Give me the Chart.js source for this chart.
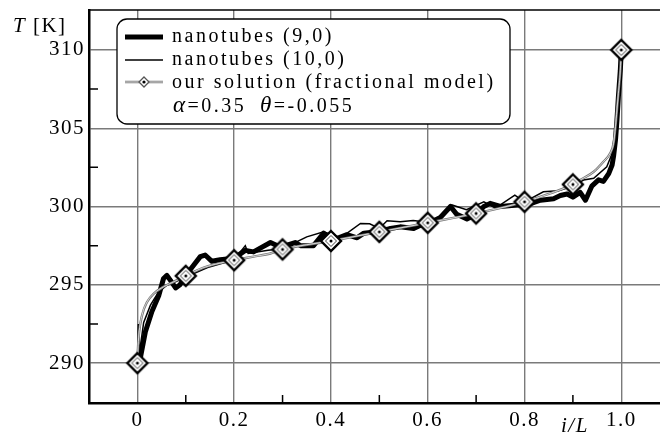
<!DOCTYPE html>
<html><head><meta charset="utf-8">
<script src="https://cdn.jsdelivr.net/npm/chart.js@4.4.1/dist/chart.umd.min.js"></script>
<style>html,body{margin:0;padding:0;background:#fff;overflow:hidden}#c{display:block}</style>
</head><body>
<canvas id="c" width="660" height="437" style="width:660px;height:437px"></canvas>
<script>
// ---- data ----
const thickX = [0, 0.006, 0.0165, 0.03, 0.044, 0.054, 0.061, 0.068, 0.079, 0.088, 0.1, 0.115, 0.13, 0.14, 0.154, 0.171, 0.2, 0.223, 0.24, 0.275, 0.296, 0.326, 0.337, 0.364, 0.385, 0.4, 0.433, 0.454, 0.468, 0.5, 0.523, 0.543, 0.571, 0.585, 0.6, 0.626, 0.647, 0.66, 0.681, 0.7, 0.716, 0.729, 0.75, 0.785, 0.805, 0.833, 0.86, 0.874, 0.888, 0.9, 0.915, 0.926, 0.939, 0.953, 0.963, 0.974, 0.981, 0.984, 0.988, 0.991, 0.994, 0.998, 1.0];
const thickY = [290, 290.3, 292.0, 293.3, 294.3, 295.4, 295.6, 295.3, 294.8, 295.0, 295.6, 296.2, 296.8, 296.9, 296.5, 296.6, 296.7, 297.2, 297.1, 297.7, 297.4, 297.7, 297.5, 297.5, 298.3, 297.8, 298.2, 298.0, 298.3, 298.4, 298.6, 298.7, 298.6, 298.8, 298.9, 299.3, 300.0, 299.5, 299.2, 299.5, 300.0, 300.2, 300.0, 300.1, 300.1, 300.4, 300.5, 300.7, 300.8, 300.6, 300.9, 300.4, 301.3, 301.7, 301.6, 302.1, 302.65, 303.2, 304.25, 305.5, 307.0, 308.7, 310];

const thinX = [0, 0.002, 0.004, 0.013, 0.027, 0.044, 0.061, 0.08, 0.1, 0.145, 0.2, 0.223, 0.229, 0.27, 0.3, 0.35, 0.385, 0.42, 0.461, 0.48, 0.5, 0.516, 0.543, 0.57, 0.6, 0.63, 0.65, 0.68, 0.716, 0.74, 0.78, 0.8, 0.839, 0.87, 0.9, 0.922, 0.943, 0.97, 0.984, 0.99, 0.995, 0.999, 1.0];
const thinY = [290, 292.5, 290.6, 292.6, 293.7, 294.55, 294.97, 295.2, 295.5, 296.1, 296.6, 297.5, 297.0, 297.2, 297.3, 298.06, 298.38, 298.0, 298.92, 298.9, 298.6, 299.09, 299.03, 299.1, 299.0, 299.4, 300.1, 299.8, 300.3, 299.9, 300.73, 300.3, 300.94, 301.0, 301.3, 301.69, 301.8, 302.54, 303.6, 305.1, 306.5, 309.1, 310];

const solX = [0, 0.001, 0.003, 0.0097, 0.02, 0.034, 0.054, 0.075, 0.1, 0.137, 0.2, 0.24, 0.275, 0.3, 0.4, 0.5, 0.6, 0.7, 0.8, 0.85, 0.9, 0.915, 0.943, 0.963, 0.977, 0.984, 0.988, 0.991, 0.994, 0.998, 1.0];
const solY = [290, 290.8, 291.8, 293.06, 293.9, 294.44, 294.87, 295.19, 295.57, 296.1, 296.57, 296.8, 297.0, 297.26, 297.8, 298.38, 298.96, 299.56, 300.3, 300.8, 301.41, 301.69, 302.22, 302.86, 303.4, 304.03, 305.1, 306.16, 307.23, 308.7, 310];

const markX = [0, 0.1, 0.2, 0.3, 0.4, 0.5, 0.6, 0.7, 0.8, 0.9, 1.0];
const markY = [290, 295.57, 296.57, 297.26, 297.8, 298.38, 298.96, 299.56, 300.3, 301.41, 310];

const xTicks = [0, 0.2, 0.4, 0.6, 0.8, 1.0];
const xTickLabels = ['0', '0.2', '0.4', '0.6', '0.8', '1.0'];
const yTicks = [290, 295, 300, 305, 310];
const minorX = [0.1, 0.3, 0.5, 0.7, 0.9];
const minorY = [292.5, 297.5, 302.5, 307.5];

const legendLabels = ['nanotubes (9,0)', 'nanotubes (10,0)', 'our solution (fractional model)'];
const alphaText = ['\u03B1', '=0.35'];
const thetaText = ['\u03B8', '=-0.055'];
const yTitle = ['T', ' [K]'];
const xTitle = 'i/L';

// ---- rendering ----
const FONT = '"Liberation Serif", "Times New Roman", serif';
const pts = (xs, ys) => xs.map((x, i) => ({ x, y: ys[i] }));

function makeMarker() {
  const s = 26, c = 13;
  const cv = document.createElement('canvas');
  cv.width = s; cv.height = s;
  const g = cv.getContext('2d');
  g.beginPath();
  g.moveTo(c, c - 10); g.lineTo(c + 10, c); g.lineTo(c, c + 10); g.lineTo(c - 10, c); g.closePath();
  g.fillStyle = '#fff'; g.fill();
  g.lineWidth = 2.4; g.strokeStyle = '#000'; g.stroke();
  g.beginPath();
  g.moveTo(c, c - 5.5); g.lineTo(c + 5.5, c); g.lineTo(c, c + 5.5); g.lineTo(c - 5.5, c); g.closePath();
  g.lineWidth = 1; g.strokeStyle = '#444'; g.stroke();
  g.beginPath(); g.arc(c, c, 1.5, 0, Math.PI * 2); g.fillStyle = '#000'; g.fill();
  return cv;
}
const markerImg = makeMarker();

function roundRect(ctx, x, y, w, h, r) {
  ctx.beginPath();
  ctx.moveTo(x + r, y);
  ctx.lineTo(x + w - r, y); ctx.arcTo(x + w, y, x + w, y + r, r);
  ctx.lineTo(x + w, y + h - r); ctx.arcTo(x + w, y + h, x + w - r, y + h, r);
  ctx.lineTo(x + r, y + h); ctx.arcTo(x, y + h, x, y + h - r, r);
  ctx.lineTo(x, y + r); ctx.arcTo(x, y, x + r, y, r);
  ctx.closePath();
}

const noPad = s => { s.paddingTop = 0; s.paddingBottom = 0; s.paddingLeft = 0; s.paddingRight = 0; };

const deco = {
  id: 'deco',
  beforeDraw(chart) { chart.ctx.letterSpacing = '1.5px'; },
  afterDraw(chart) {
    const { ctx, chartArea: a, scales: { x, y } } = chart;
    ctx.save();
    ctx.strokeStyle = '#000'; ctx.lineWidth = 1.6;
    ctx.beginPath(); ctx.moveTo(a.left, a.top); ctx.lineTo(chart.width, a.top); ctx.stroke();
    ctx.lineWidth = 1.5; ctx.beginPath();
    minorX.forEach(v => { const p = x.getPixelForValue(v); ctx.moveTo(p, a.bottom); ctx.lineTo(p, a.bottom - 8); });
    minorY.forEach(v => { const p = y.getPixelForValue(v); ctx.moveTo(a.left, p); ctx.lineTo(a.left + 9, p); });
    ctx.stroke();

    ctx.fillStyle = '#000'; ctx.textBaseline = 'alphabetic'; ctx.textAlign = 'left';
    ctx.letterSpacing = '1.5px';
    ctx.font = 'italic 21px ' + FONT;
    ctx.fillText(yTitle[0], 13, 32);
    let w = ctx.measureText(yTitle[0]).width;
    ctx.font = '21px ' + FONT;
    ctx.fillText(yTitle[1], 13 + w, 32);
    ctx.font = 'italic 21px ' + FONT;
    ctx.fillText(xTitle, 561, 432);

    roundRect(ctx, 117, 19, 393, 105, 10);
    ctx.fillStyle = '#fff'; ctx.fill();
    ctx.lineWidth = 1.3; ctx.strokeStyle = '#000'; ctx.stroke();
    ctx.lineCap = 'butt';
    ctx.beginPath(); ctx.lineWidth = 5; ctx.strokeStyle = '#000';
    ctx.moveTo(125, 37); ctx.lineTo(163, 37); ctx.stroke();
    ctx.beginPath(); ctx.lineWidth = 1.5;
    ctx.moveTo(125, 60); ctx.lineTo(163, 60); ctx.stroke();
    ctx.beginPath(); ctx.lineWidth = 2.4; ctx.strokeStyle = '#777';
    ctx.moveTo(125, 82); ctx.lineTo(163, 82); ctx.stroke();
    ctx.beginPath(); ctx.lineWidth = 0.7; ctx.strokeStyle = '#fff';
    ctx.moveTo(125, 82); ctx.lineTo(163, 82); ctx.stroke();
    ctx.beginPath();
    ctx.moveTo(144, 77); ctx.lineTo(149, 82); ctx.lineTo(144, 87); ctx.lineTo(139, 82); ctx.closePath();
    ctx.fillStyle = '#fff'; ctx.fill(); ctx.lineWidth = 1.3; ctx.strokeStyle = '#555'; ctx.stroke();
    ctx.beginPath(); ctx.arc(144, 82, 1.6, 0, Math.PI * 2); ctx.fillStyle = '#000'; ctx.fill();

    ctx.fillStyle = '#000';
    ctx.letterSpacing = '2.5px';
    ctx.font = '20px ' + FONT;
    ctx.fillText(legendLabels[0], 172, 42);
    ctx.fillText(legendLabels[1], 172, 65);
    ctx.fillText(legendLabels[2], 172, 88);
    ctx.font = 'italic 23px ' + FONT;
    ctx.fillText(alphaText[0], 173, 112);
    w = ctx.measureText(alphaText[0]).width;
    ctx.font = '20px ' + FONT;
    ctx.fillText(alphaText[1], 173 + w, 112);
    ctx.font = 'italic 23px ' + FONT;
    ctx.fillText(thetaText[0], 260, 112);
    w = ctx.measureText(thetaText[0]).width;
    ctx.font = '20px ' + FONT;
    ctx.fillText(thetaText[1], 260 + w, 112);
    ctx.restore();
  }
};

new Chart(document.getElementById('c'), {
  type: 'scatter',
  data: {
    datasets: [
      { label: 'markers', data: pts(markX, markY), showLine: false, pointStyle: markerImg, pointRadius: 10, pointHoverRadius: 10 },
      { label: 'solution core', data: pts(solX, solY), showLine: true, borderColor: '#fff', borderWidth: 0.7, pointRadius: 0, cubicInterpolationMode: 'monotone' },
      { label: 'our solution (fractional model)', data: pts(solX, solY), showLine: true, borderColor: '#777', borderWidth: 2.4, pointRadius: 0, cubicInterpolationMode: 'monotone' },
      { label: 'nanotubes (10,0)', data: pts(thinX, thinY), showLine: true, borderColor: '#000', borderWidth: 1.5, pointRadius: 0, tension: 0 },
      { label: 'nanotubes (9,0)', data: pts(thickX, thickY), showLine: true, borderColor: '#000', borderWidth: 5, pointRadius: 0, tension: 0, borderJoinStyle: 'round' }
    ]
  },
  options: {
    responsive: false,
    animation: false,
    events: [],
    layout: { autoPadding: false, padding: { top: 10, left: 0, right: 0, bottom: 0 } },
    plugins: { legend: { display: false }, tooltip: { enabled: false } },
    scales: {
      x: {
        type: 'linear', min: -0.1, max: 1.08,
        afterBuildTicks: s => { s.ticks = xTicks.map(v => ({ value: v })); },
        afterFit: s => { s.height = 34; noPad(s); },
        ticks: { callback: (v, i) => xTickLabels[i], font: { family: FONT, size: 21 }, color: '#000', padding: 5, maxRotation: 0 },
        grid: { color: '#7a7a7a', lineWidth: 1.4, drawTicks: false },
        border: { display: true, color: '#000', width: 2.5 }
      },
      y: {
        type: 'linear', min: 287.45, max: 312.55,
        afterBuildTicks: s => { s.ticks = yTicks.map(v => ({ value: v })); },
        afterFit: s => { s.width = 89; noPad(s); },
        ticks: { callback: v => String(v), font: { family: FONT, size: 21 }, color: '#000', padding: 4 },
        grid: { color: '#7a7a7a', lineWidth: 1.4, drawTicks: false },
        border: { display: true, color: '#000', width: 2.5 }
      }
    }
  },
  plugins: [deco]
});
</script>
</body></html>
